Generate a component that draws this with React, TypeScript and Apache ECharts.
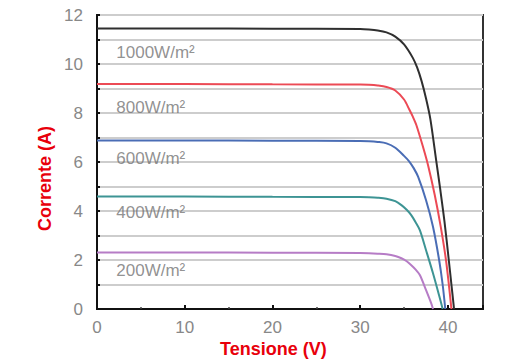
import React, { useEffect, useRef } from "react";
import * as echarts from "echarts";

// I-V curves: [voltage (V), current (A)]
const curve1000: number[][] = [
  [0, 11.45], [10, 11.45], [20, 11.44], [30, 11.43], [31, 11.41], [32, 11.37], [33, 11.29],
  [34, 11.12], [35, 10.8], [36, 10.25], [36.5, 9.85], [37, 9.3], [37.5, 8.6], [38, 7.75],
  [38.65, 6.1], [39.1, 4.95], [39.6, 3.6], [40.1, 2.0], [40.4, 1.0], [40.7, 0],
];
const curve800: number[][] = [
  [0, 9.18], [10, 9.18], [20, 9.17], [30, 9.16], [31, 9.15], [32, 9.12], [33, 9.06],
  [34, 8.92], [35, 8.55], [35.6, 8.14], [36, 7.85], [36.4, 7.51], [37.1, 6.69], [37.75, 5.85],
  [38.5, 4.65], [39.2, 3.32], [39.8, 1.94], [40.4, 0],
];
const curve600: number[][] = [
  [0, 6.88], [10, 6.88], [20, 6.87], [30, 6.86], [31, 6.85], [32, 6.82], [33, 6.76],
  [34, 6.58], [35, 6.25], [35.6, 6.02], [36.1, 5.75], [36.6, 5.4], [37.5, 4.45], [38.3, 3.36],
  [39.0, 2.0], [39.4, 1.0], [39.7, 0],
];
const curve400: number[][] = [
  [0, 4.59], [10, 4.59], [20, 4.58], [30, 4.57], [31, 4.56], [32, 4.54], [33, 4.5],
  [34, 4.4], [34.7, 4.24], [35.3, 4.05], [35.8, 3.84], [36.3, 3.55], [36.8, 3.22], [37.5, 2.41],
  [38.3, 1.46], [39.0, 0.55], [39.4, 0],
];
const curve200: number[][] = [
  [0, 2.31], [10, 2.31], [20, 2.3], [30, 2.29], [31, 2.28], [32, 2.26], [33, 2.23],
  [34, 2.16], [34.7, 2.07], [35.3, 1.95], [35.8, 1.8], [36.3, 1.62], [36.8, 1.39], [37.5, 0.78],
  [38.1, 0.23], [38.3, 0],
];

const seriesNames = ["1000W/m²", "800W/m²", "600W/m²", "400W/m²", "200W/m²"];
const seriesColors = ["#2f2f2f", "#ec4a55", "#4a6db5", "#3d9494", "#b67cc6"];
const seriesData = [curve1000, curve800, curve600, curve400, curve200];

// Label anchor positions (data coordinates)
const labelX = [2.2, 2.2, 2.2, 2.2, 2.2];
const labelY = [10.45, 8.24, 6.16, 3.92, 1.59];

const xTicks = [0, 10, 20, 30, 40];

export default function App() {
  const ref = useRef<HTMLDivElement>(null);

  useEffect(() => {
    if (!ref.current) return;
    const chart = echarts.init(ref.current, null, { renderer: "svg" });

    const lineSeries = seriesData.map((d, i) => ({
      name: seriesNames[i],
      type: "line",
      data: d,
      smooth: 0.3,
      showSymbol: false,
      symbol: "none",
      lineStyle: { color: seriesColors[i], width: 2 },
      z: 3,
    }));

    const labelSeries = {
      type: "scatter",
      symbolSize: 0,
      silent: true,
      data: labelX.map((x, i) => [x, labelY[i], seriesNames[i]]),
      label: {
        show: true,
        position: "right",
        distance: 0,
        formatter: (p: any) => p.value[2],
        color: "#757575",
        fontSize: 17,
        fontFamily: "Liberation Sans, Arial, sans-serif",
      },
      z: 4,
    };

    chart.setOption({
      animation: false,
      backgroundColor: "#ffffff",
      grid: {
        left: 97,
        top: 15,
        right: 26,
        bottom: 55,
        show: true,
        borderColor: "#333",
        borderWidth: 2,
        containLabel: false,
      },
      xAxis: {
        type: "value",
        min: 0,
        max: 44,
        interval: 10,
        axisLine: { show: true, lineStyle: { color: "#111", width: 2 } },
        axisTick: { show: true, inside: true, length: 4, lineStyle: { color: "#111", width: 2 } },
        minorTick: { show: true, splitNumber: 2, length: 2, lineStyle: { color: "#444", width: 1.5 } },
        splitLine: { show: false },
        axisLabel: {
          color: "#888",
          fontSize: 17,
          margin: 10,
          fontFamily: "Liberation Sans, Arial, sans-serif",
          formatter: (v: number) => (xTicks.indexOf(v) >= 0 ? String(v) : ""),
        },
      },
      yAxis: {
        type: "value",
        min: 0,
        max: 12,
        interval: 1,
        axisLine: { show: true, lineStyle: { color: "#111", width: 2 } },
        axisTick: { show: true, inside: true, length: 3, lineStyle: { color: "#111", width: 2 } },
        splitLine: { show: true, lineStyle: { color: "#cdcdcd", width: 2 } },
        axisLabel: {
          color: "#888",
          fontSize: 17,
          margin: 14,
          fontFamily: "Liberation Sans, Arial, sans-serif",
          formatter: (v: number) => (v % 2 === 0 ? String(v) : ""),
        },
      },
      graphic: [
        {
          type: "text",
          left: 220,
          top: 340,
          style: {
            text: "Tensione (V)",
            fill: "#e8000b",
            font: "bold 18px Liberation Sans, Arial, sans-serif",
          },
        },
        {
          type: "text",
          x: 36,
          y: 231,
          rotation: Math.PI / 2,
          style: {
            text: "Corrente (A)",
            fill: "#e8000b",
            font: "bold 18px Liberation Sans, Arial, sans-serif",
          },
        },
      ],
      series: [...lineSeries, labelSeries],
    });

    return () => chart.dispose();
  }, []);

  return <div ref={ref} style={{ width: 509, height: 364, position: "absolute", left: 0, top: 0 }} />;
}
